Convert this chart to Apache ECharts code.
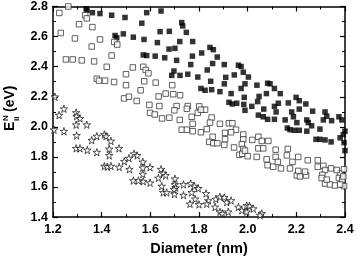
<!DOCTYPE html>
<html><head><meta charset="utf-8">
<script src="https://cdn.jsdelivr.net/npm/echarts@6/dist/echarts.min.js"></script>
<style>html,body{margin:0;padding:0;background:#fff}#c{width:357px;height:261px}</style>
</head><body><div id="c"></div>
<script>
// Tick labels
var xTicks = ['1.2','1.4','1.6','1.8','2.0','2.2','2.4'];
var yTicks = ['1.4','1.6','1.8','2.0','2.2','2.4','2.6','2.8'];
var xTitle = 'Diameter (nm)';

// Series 1: filled squares [diameter, energy]
var filledSquares = [[1.336,2.785],[1.340,2.775],[1.362,2.759],[1.393,2.753],[1.441,2.742],[1.496,2.727],[1.565,2.689],[1.585,2.759],[1.644,2.770],[1.678,2.635],[1.640,2.633],[1.629,2.560],[1.574,2.581],[1.530,2.596],[1.489,2.618],[1.455,2.607],[1.462,2.592],[1.571,2.478],[1.585,2.474],[1.620,2.470],[1.659,2.459],[1.677,2.517],[1.701,2.522],[1.708,2.442],[1.697,2.371],[1.688,2.342],[1.729,2.693],[1.733,2.671],[1.748,2.628],[1.721,2.567],[1.774,2.567],[1.845,2.528],[1.859,2.513],[1.811,2.491],[1.773,2.470],[1.875,2.464],[1.766,2.414],[1.856,2.421],[1.904,2.414],[1.962,2.410],[1.973,2.401],[1.834,2.378],[1.754,2.350],[1.795,2.331],[1.722,2.342],[1.910,2.329],[1.945,2.345],[1.982,2.363],[2.003,2.331],[1.848,2.303],[1.904,2.286],[1.973,2.255],[1.808,2.255],[1.825,2.243],[1.852,2.247],[1.886,2.234],[1.932,2.221],[1.986,2.196],[1.923,2.163],[1.937,2.152],[1.955,2.157],[1.984,2.149],[1.989,2.286],[2.038,2.277],[2.082,2.290],[2.092,2.286],[2.110,2.255],[2.134,2.221],[2.077,2.221],[2.047,2.202],[2.199,2.196],[2.212,2.174],[2.239,2.152],[2.167,2.159],[2.126,2.157],[2.110,2.136],[2.041,2.168],[2.017,2.136],[2.066,2.118],[1.989,2.110],[2.117,2.099],[2.181,2.099],[2.212,2.118],[2.267,2.104],[2.318,2.099],[2.044,2.078],[2.064,2.067],[2.082,2.050],[2.110,2.050],[2.154,2.046],[2.188,2.067],[2.202,2.028],[2.243,2.046],[2.249,2.028],[2.325,2.071],[2.345,2.041],[2.375,2.067],[2.387,2.046],[2.311,2.046],[2.163,1.992],[2.174,1.981],[2.192,1.977],[2.212,1.977],[2.243,1.971],[2.263,2.007],[2.297,1.985],[2.281,1.917],[2.297,1.917],[2.318,1.913],[2.343,1.900],[2.380,1.927],[2.393,1.949],[2.396,1.895],[2.400,1.842],[2.400,1.971]];

// Series 2: open squares
var openSquares = [[1.226,2.757],[1.263,2.800],[1.332,2.742],[1.339,2.721],[1.307,2.682],[1.362,2.663],[1.232,2.624],[1.290,2.588],[1.393,2.581],[1.452,2.564],[1.464,2.547],[1.359,2.534],[1.441,2.474],[1.253,2.448],[1.281,2.448],[1.318,2.442],[1.369,2.435],[1.421,2.399],[1.500,2.350],[1.528,2.395],[1.571,2.399],[1.581,2.378],[1.592,2.356],[1.380,2.320],[1.389,2.307],[1.414,2.307],[1.451,2.298],[1.500,2.277],[1.575,2.303],[1.622,2.294],[1.560,2.243],[1.492,2.189],[1.512,2.200],[1.544,2.172],[1.596,2.146],[1.634,2.202],[1.663,2.221],[1.694,2.217],[1.599,2.093],[1.618,2.082],[1.648,2.056],[1.678,2.061],[1.708,2.138],[1.690,2.277],[1.722,2.210],[1.637,2.138],[1.754,2.138],[1.801,2.136],[1.825,2.114],[1.699,2.110],[1.721,2.046],[1.750,2.120],[1.770,2.067],[1.795,2.093],[1.808,2.114],[1.852,2.062],[1.774,2.020],[1.729,1.981],[1.750,1.981],[1.774,1.971],[1.808,1.964],[1.832,1.985],[1.845,2.028],[1.886,2.020],[1.923,2.024],[1.937,2.024],[1.952,1.981],[1.907,1.960],[1.932,1.964],[1.856,1.934],[1.842,1.900],[1.859,1.891],[1.875,1.891],[1.907,1.917],[1.904,1.880],[1.944,1.863],[1.982,1.949],[1.982,1.917],[1.976,1.885],[1.982,1.853],[1.966,1.814],[1.978,1.821],[2.000,1.805],[1.989,1.842],[2.019,1.913],[2.044,1.934],[2.058,1.906],[2.085,1.906],[2.044,1.857],[2.064,1.857],[2.037,1.800],[2.078,1.784],[2.082,1.745],[2.105,1.735],[2.115,1.848],[2.115,1.800],[2.124,1.767],[2.137,1.724],[2.165,1.853],[2.161,1.810],[2.184,1.767],[2.208,1.800],[2.174,1.724],[2.202,1.677],[2.215,1.670],[2.240,1.677],[2.236,1.702],[2.208,1.707],[2.247,1.778],[2.288,1.778],[2.288,1.735],[2.311,1.741],[2.318,1.713],[2.343,1.724],[2.307,1.681],[2.304,1.660],[2.318,1.623],[2.338,1.617],[2.359,1.610],[2.325,1.649],[2.380,1.692],[2.375,1.660],[2.389,1.649],[2.396,1.718],[2.396,1.606],[2.393,1.670],[2.366,1.713],[2.380,1.617]];

// Series 3: open stars
var stars = [[1.208,2.200],[1.225,2.078],[1.245,2.120],[1.295,2.095],[1.297,2.071],[1.311,2.056],[1.204,1.981],[1.245,1.971],[1.295,2.014],[1.339,2.014],[1.297,1.943],[1.295,1.857],[1.311,1.857],[1.341,1.846],[1.380,1.831],[1.359,1.911],[1.380,1.938],[1.411,1.949],[1.418,1.938],[1.438,1.906],[1.431,1.853],[1.431,1.810],[1.471,1.857],[1.411,1.739],[1.423,1.735],[1.438,1.739],[1.472,1.733],[1.493,1.771],[1.512,1.792],[1.533,1.821],[1.546,1.810],[1.514,1.718],[1.569,1.767],[1.569,1.728],[1.569,1.686],[1.530,1.643],[1.551,1.643],[1.571,1.638],[1.599,1.731],[1.644,1.718],[1.653,1.692],[1.663,1.677],[1.633,1.660],[1.599,1.628],[1.647,1.606],[1.701,1.655],[1.701,1.617],[1.704,1.596],[1.653,1.564],[1.667,1.564],[1.699,1.553],[1.697,1.585],[1.736,1.617],[1.736,1.546],[1.766,1.623],[1.781,1.606],[1.797,1.591],[1.770,1.564],[1.784,1.521],[1.763,1.488],[1.800,1.484],[1.829,1.557],[1.838,1.510],[1.832,1.488],[1.869,1.520],[1.886,1.535],[1.904,1.531],[1.914,1.499],[1.866,1.467],[1.886,1.435],[1.896,1.424],[1.920,1.435],[1.932,1.510],[1.962,1.467],[1.976,1.445],[1.996,1.477],[1.996,1.435],[2.007,1.473],[2.023,1.456],[2.058,1.424],[2.051,1.413]];

var FONT = "'Liberation Sans', Arial, sans-serif";
var starPath = 'path://M50,0 L61,35 L98,35 L68,57 L79,91 L50,70 L21,91 L32,57 L2,35 L39,35 Z';

function baseAxis(extra){
  return Object.assign({
    type:'value', scale:false,
    axisLine:{show:true, onZero:false, lineStyle:{color:'#000', width:1.5}},
    axisTick:{show:true, inside:true, length:5, lineStyle:{color:'#000', width:1.2}},
    minorTick:{show:true, splitNumber:2, length:3, lineStyle:{color:'#000', width:1}},
    splitLine:{show:false},
    axisLabel:{show:false}
  }, extra);
}
var lbl = {show:true, color:'#000', fontFamily:FONT, fontWeight:'bold', fontSize:12.5};

var chart = echarts.init(document.getElementById('c'), null, {renderer:'canvas'});
chart.setOption({
  animation:false,
  backgroundColor:'#fff',
  grid:{left:53, right:12, top:6, bottom:37, containLabel:false},
  xAxis:[
    baseAxis({min:1.2, max:2.4, interval:0.2, position:'bottom',
      axisLabel:Object.assign({}, lbl, {margin:6, formatter:function(v){return xTicks[Math.round((v-1.2)/0.2)];}}),
      name:xTitle, nameLocation:'middle', nameGap:23,
      nameTextStyle:{color:'#000', fontFamily:FONT, fontWeight:'bold', fontSize:14.5}}),
    baseAxis({min:1.2, max:2.4, interval:0.2, position:'top'})
  ],
  yAxis:[
    baseAxis({min:1.4, max:2.8, interval:0.2, position:'left',
      axisLabel:Object.assign({}, lbl, {margin:5, formatter:function(v){return yTicks[Math.round((v-1.4)/0.2)];}})}),
    baseAxis({min:1.4, max:2.8, interval:0.2, position:'right'})
  ],
  graphic:[{
    type:'group', x:10, y:131, rotation:Math.PI/2,
    children:[
      {type:'text', x:0, y:0, style:{text:'E', font:'bold 14px '+FONT, fill:'#000', textAlign:'left', textVerticalAlign:'middle'}},
      {type:'text', x:10, y:-4, style:{text:'N', font:'bold 8px '+FONT, fill:'#000', textAlign:'left', textVerticalAlign:'middle'}},
      {type:'text', x:10, y:7, style:{text:'ii', font:'bold 8px '+FONT, fill:'#000', textAlign:'left', textVerticalAlign:'middle'}},
      {type:'text', x:19, y:0, style:{text:'(eV)', font:'bold 14px '+FONT, fill:'#000', textAlign:'left', textVerticalAlign:'middle'}}
    ]
  }],
  series:[
    {type:'scatter', name:'filled', data:filledSquares, symbol:'rect', symbolSize:5.5, clip:false,
      itemStyle:{color:'#000'}},
    {type:'scatter', name:'open', data:openSquares, symbol:'rect', symbolSize:5.5, clip:false,
      itemStyle:{color:'#fff', borderColor:'#3a3a3a', borderWidth:1}},
    {type:'scatter', name:'stars', data:stars, symbol:starPath, symbolSize:7.5, clip:false,
      itemStyle:{color:'#fff', borderColor:'#111', borderWidth:0.9}}
  ]
});
</script></body></html>
